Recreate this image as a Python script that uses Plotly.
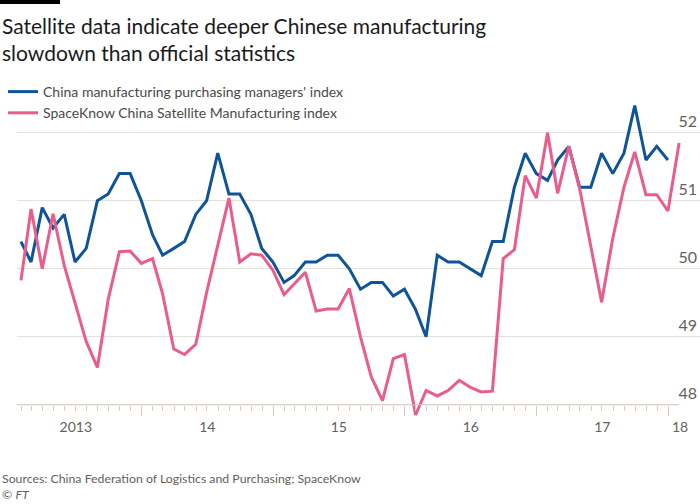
import pandas as pd
import plotly.graph_objects as go

# ---- data (monthly, Jan 2013 onwards) ----
pmi = [50.4, 50.1, 50.9, 50.6, 50.8, 50.1, 50.3, 51.0, 51.1, 51.4, 51.4, 51.0,
       50.5, 50.2, 50.3, 50.4, 50.8, 51.0, 51.7, 51.1, 51.1, 50.8, 50.3, 50.1,
       49.8, 49.9, 50.1, 50.1, 50.2, 50.2, 50.0, 49.7, 49.8, 49.8, 49.6, 49.7,
       49.4, 49.0, 50.2, 50.1, 50.1, 50.0, 49.9, 50.4, 50.4, 51.2, 51.7, 51.4,
       51.3, 51.6, 51.8, 51.2, 51.2, 51.7, 51.4, 51.7, 52.4, 51.6, 51.8, 51.6]
spaceknow = [49.83, 50.88, 50.00, 50.81, 50.05, 49.49, 48.93, 48.55, 49.55, 50.25, 50.26, 50.08,
             50.15, 49.63, 48.82, 48.74, 48.89, 49.65, 50.35, 51.04, 50.10, 50.22, 50.20, 49.98,
             49.62, 49.77, 49.95, 49.38, 49.41, 49.41, 49.71, 49.00, 48.41, 48.06, 48.68, 48.74,
             47.85, 48.21, 48.13, 48.21, 48.36, 48.26, 48.19, 48.20, 50.15, 50.28, 51.37, 51.04,
             52.00, 51.11, 51.80, 51.18, 50.33, 49.51, 50.45, 51.20, 51.72, 51.09, 51.09, 50.85,
             51.85]
start_month = "2013-01-01"
pmi_name = "China manufacturing purchasing managers' index"
sk_name = "SpaceKnow China Satellite Manufacturing index"
year_label_dates = ["2013-07-02", "2014-07-02", "2015-07-02", "2016-07-02", "2017-07-02"]
year_labels = ["2013", "14", "15", "16", "17"]
last_label_date, last_label = "2018-02-03", "18"
year_starts = ["2014-01-01", "2015-01-01", "2016-01-01", "2017-01-01", "2018-01-01"]
y_ticks = [48, 49, 50, 51, 52]
title_text = "Satellite data indicate deeper Chinese manufacturing<br>slowdown than official statistics"
source_text = "Sources: China Federation of Logistics and Purchasing; SpaceKnow"

months = pd.date_range(start_month, periods=len(spaceknow), freq="MS") + pd.offsets.MonthEnd(0)
minor_ticks = [d for d in pd.date_range("2013-02-01", "2017-12-01", freq="MS") if d.month != 1]

# ---- style ----
BLUE = "#0f5499"
PINK = "#eb5c8c"
GRID = "#e6e0da"
AXIS = "#d3cbc4"
GREY = "#66605c"
FONT = "Lato"

W, H = 700, 504
L, R, T, B = 17, 0, 92, 72
YMIN, YMAX = 47.6, 52.6
XR = ["2013-01-20", "2018-03-30"]
pw, ph = W - L - R, H - T - B
def px_x(p):  # pixel -> paper x
    return (p - L) / pw
def px_y(p):  # pixel -> paper y
    return (H - B - p) / ph
axis_pos = (48 - YMIN) / (YMAX - YMIN)

fig = go.Figure()
fig.add_trace(go.Scatter(x=months[:len(pmi)], y=pmi, name=pmi_name, mode="lines",
                         line=dict(color=BLUE, width=3), hoverinfo="skip"))
fig.add_trace(go.Scatter(x=months, y=spaceknow, name=sk_name, mode="lines",
                         line=dict(color=PINK, width=3), hoverinfo="skip"))
# invisible trace to carry the year-boundary tick axis
fig.add_trace(go.Scatter(x=[months[0]], y=[50], xaxis="x2", mode="markers",
                         marker=dict(opacity=0), showlegend=False, hoverinfo="skip"))

fig.update_layout(
    width=W, height=H,
    margin=dict(l=L, r=R, t=T, b=B),
    paper_bgcolor="white", plot_bgcolor="white",
    font=dict(family=FONT, color=GREY),
    showlegend=True,
    legend=dict(x=px_x(3), y=px_y(76), xanchor="left", yanchor="top",
                bgcolor="rgba(0,0,0,0)", font=dict(size=14, color="#4d4845", family=FONT),
                tracegroupgap=0, itemwidth=30),
    xaxis=dict(range=XR, anchor="free", position=axis_pos, showgrid=False, zeroline=False, showline=False,
               tickmode="array", tickvals=year_label_dates, ticktext=year_labels, ticks="",
               ticklabelstandoff=12,
               tickfont=dict(size=14, color=GREY, family=FONT),
               minor=dict(ticks="outside", ticklen=5, tickcolor=AXIS, tickwidth=1,
                          tickmode="array", tickvals=minor_ticks, showgrid=False)),
    xaxis2=dict(range=XR, overlaying="x", anchor="free", position=axis_pos, side="bottom",
                showgrid=False, zeroline=False, showline=False, showticklabels=False,
                tickmode="array", tickvals=year_starts, ticks="outside", ticklen=10,
                tickcolor=AXIS, tickwidth=1),
    yaxis=dict(range=[YMIN, YMAX], side="right", tickmode="array", tickvals=y_ticks,
               ticklabelposition="inside top", ticks="", showgrid=True, gridcolor=GRID, gridwidth=1,
               zeroline=False, showline=False, tickfont=dict(size=16, color=GREY, family=FONT)),
)

# axis base line
fig.add_shape(type="line", xref="x", yref="y", x0=XR[0], x1=months[-1], y0=48, y1=48,
              line=dict(color=AXIS, width=1), layer="above")
# blank out the 48 gridline beyond the last month
fig.add_shape(type="rect", xref="x", yref="y", x0=months[-1], x1=XR[1], y0=47.97, y1=48.03,
              fillcolor="white", line=dict(width=0), layer="between")
# legend area hides top gridline
fig.add_shape(type="rect", xref="paper", yref="y", x0=0, x1=px_x(357), y0=51.88, y1=YMAX,
              fillcolor="white", line=dict(width=0), layer="between")
# FT black bar
fig.add_shape(type="rect", xref="paper", yref="paper", x0=px_x(0), x1=px_x(60), y0=px_y(4), y1=px_y(0),
              fillcolor="black", line=dict(width=0), layer="above")

# last year label (beyond the final year boundary)
fig.add_annotation(text=last_label, xref="x", yref="paper", x=last_label_date, y=px_y(426),
                   xanchor="center", yanchor="middle", showarrow=False,
                   font=dict(size=14, color=GREY, family=FONT))
fig.add_annotation(text=title_text, xref="paper", yref="paper", x=px_x(0), y=px_y(11),
                   xanchor="left", yanchor="top", align="left", showarrow=False,
                   font=dict(size=21, color="#1a1a1a", family=FONT))
fig.add_annotation(text=source_text,
                   xref="paper", yref="paper", x=px_x(0), y=px_y(478), xanchor="left", yanchor="middle",
                   showarrow=False, font=dict(size=12.3, color=GREY, family=FONT))
fig.add_annotation(text="© <i>FT</i>",
                   xref="paper", yref="paper", x=px_x(0), y=px_y(494), xanchor="left", yanchor="middle",
                   showarrow=False, font=dict(size=12.3, color=GREY, family=FONT))

fig.write_html("out.html")
